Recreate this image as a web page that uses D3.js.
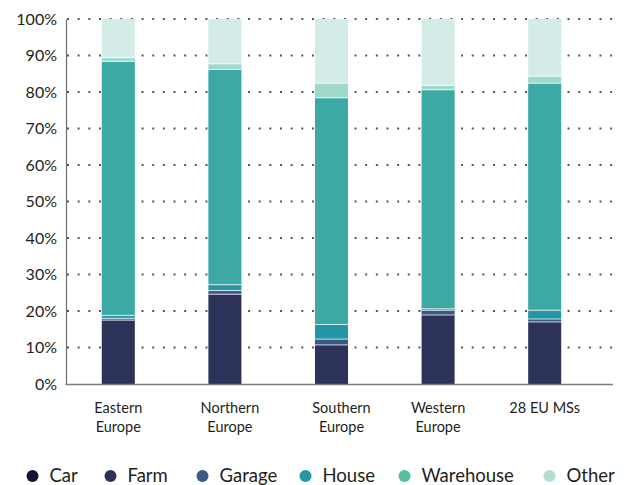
<!DOCTYPE html>
<html>
<head>
<meta charset="utf-8">
<script src="https://cdn.jsdelivr.net/npm/d3@7"></script>
<style>
  html, body { margin: 0; padding: 0; background: #fff; }
  svg { display: block; }
  text { font-family: Lato, "Open Sans", sans-serif; fill: #231f20; }
</style>
</head>
<body>
<svg id="chart" width="626" height="485"></svg>
<script>
const regions = ["Eastern Europe", "Northern Europe", "Southern Europe", "Western Europe", "28 EU MSs"];
const regionLines = [["Eastern", "Europe"], ["Northern", "Europe"], ["Southern", "Europe"], ["Western", "Europe"], ["28 EU MSs"]];
const seriesNames = ["Car", "Farm", "Garage", "House", "Warehouse", "Other"];
const car       = [17.5, 24.6, 10.7, 18.9, 17.0];
const farm      = [0.5, 1.0, 1.6, 1.3, 0.8];
const garage    = [0.8, 1.6, 4.0, 0.4, 2.4];
const house     = [69.6, 59.0, 62.1, 60.0, 62.2];
const warehouse = [1.0, 1.5, 4.0, 1.2, 1.9];
const other     = [10.6, 12.3, 17.6, 18.2, 15.7];
const yTicks = [0, 10, 20, 30, 40, 50, 60, 70, 80, 90, 100];
const barColors = ["#2c3259", "#3a5a85", "#2596a6", "#3ca9a5", "#a0d8cc", "#d4ece8"];
const legendColors = ["#111535", "#2b3158", "#3a5a85", "#2596a6", "#52c0a0", "#b2ded4"];

const seriesValues = [car, farm, garage, house, warehouse, other];
const rows = regions.map((r, i) => {
  const o = { region: r };
  seriesNames.forEach((s, k) => o[s] = seriesValues[k][i]);
  return o;
});

const svg = d3.select("#chart");
const x = d3.scaleBand().domain(regions).range([65, 598]).paddingInner(0.69).paddingOuter(0.345);
const y = d3.scaleLinear().domain([0, 100]).range([384, 19]);

// grid
svg.append("g").selectAll("line").data(yTicks.filter(d => d > 0)).join("line")
  .attr("x1", 67).attr("x2", 612)
  .attr("y1", d => y(d)).attr("y2", d => y(d))
  .attr("stroke", "#555").attr("stroke-width", 2)
  .attr("stroke-dasharray", "2,8.65");

// bars
const stack = d3.stack().keys(seriesNames)(rows);
svg.append("g").selectAll("g").data(stack).join("g")
  .attr("fill", (d, i) => barColors[i])
  .selectAll("rect").data(d => d).join("rect")
  .attr("x", d => x(d.data.region))
  .attr("width", x.bandwidth())
  .attr("y", d => y(d[1]))
  .attr("height", d => Math.max(0, y(d[0]) - y(d[1])));

// separators
svg.append("g").selectAll("g").data(stack.slice(0, -1)).join("g")
  .selectAll("line").data(d => d).join("line")
  .attr("x1", d => x(d.data.region)).attr("x2", d => x(d.data.region) + x.bandwidth())
  .attr("y1", d => y(d[1])).attr("y2", d => y(d[1]))
  .attr("stroke", "#fff").attr("stroke-opacity", 0.75).attr("stroke-width", 1);

// axes
const yAxis = svg.append("g").attr("transform", "translate(66,0)")
  .call(d3.axisLeft(y).tickValues(yTicks).tickSize(0).tickPadding(9).tickFormat(d => d + "%"));
yAxis.select(".domain").attr("stroke", "#6d6d6d").attr("stroke-width", 1.2);
yAxis.selectAll("text").style("font-size", "16px").attr("fill", "#231f20");

svg.append("line").attr("x1", 65.5).attr("x2", 613).attr("y1", 384.5).attr("y2", 384.5)
  .attr("stroke", "#7d7d7d").attr("stroke-width", 1.6);

// x labels (label nudges match the reference's slightly off-centre labels)
const labelNudge = [0, 5, 10, 0, 0];
const xl = svg.append("g").selectAll("text").data(regions).join("text")
  .attr("x", (d, i) => x(d) + x.bandwidth() / 2 + labelNudge[i])
  .attr("y", 413)
  .attr("text-anchor", "middle")
  .style("font-size", "14.5px");
xl.selectAll("tspan").data((d, i) => regionLines[i]).join("tspan")
  .attr("x", function() { return d3.select(this.parentNode).attr("x"); })
  .attr("dy", (d, i) => i === 0 ? 0 : 19)
  .text(d => d);

// legend
const legendX = [32.5, 110.5, 202.5, 305.5, 404.5, 549.5];
const lg = svg.append("g").selectAll("g").data(seriesNames).join("g")
  .attr("transform", (d, i) => `translate(${legendX[i]},476)`);
lg.append("circle").attr("r", 6).attr("fill", (d, i) => legendColors[i]);
lg.append("text").attr("x", 17).attr("dy", "0.35em").style("font-size", "18.5px").text(d => d);
</script>
</body>
</html>
